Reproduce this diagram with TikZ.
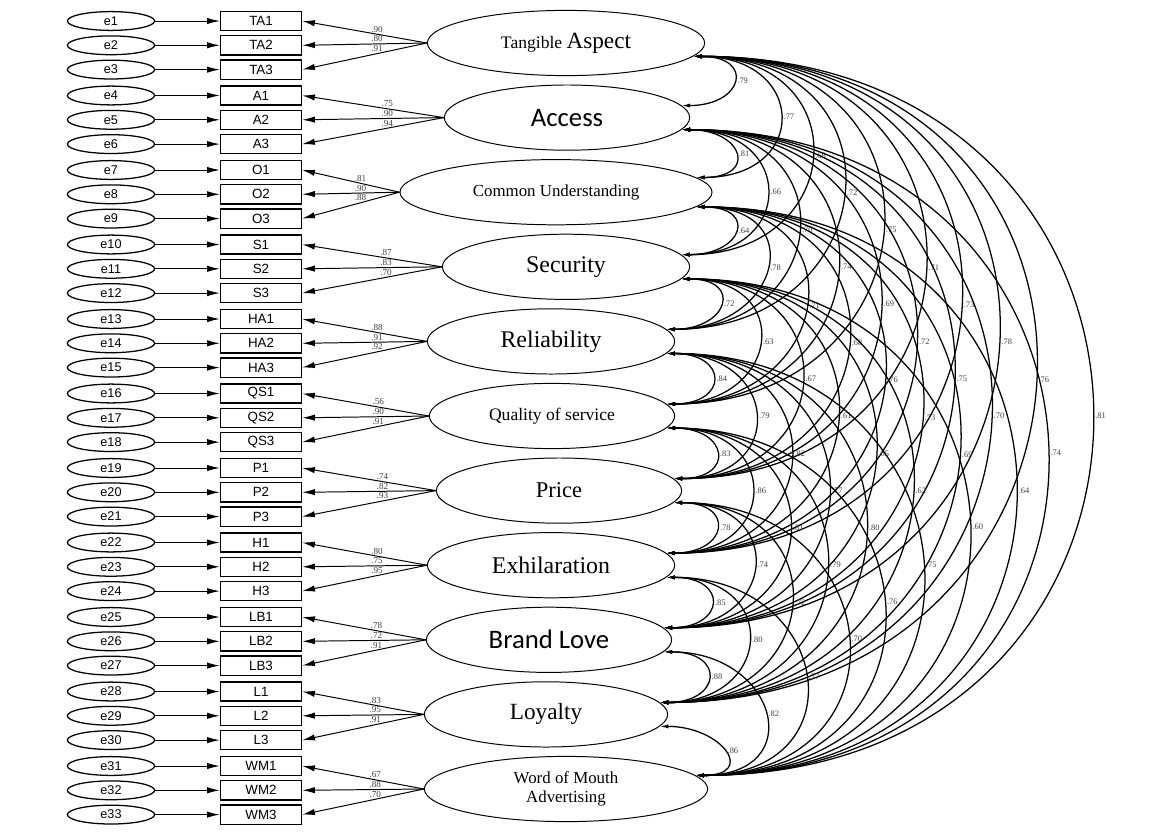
\documentclass[tikz,border=0pt]{standalone}
\usepackage{fontspec}
\setmainfont{Liberation Serif}
\setsansfont{Liberation Sans}
\newfontfamily\calibrifont{Carlito}
\usetikzlibrary{shapes.geometric, arrows.meta}

\tikzset{
  errnode/.style={draw, ellipse, inner sep=0pt, minimum width=2.18cm, minimum height=0.47cm,
    line width=0.9pt, font=\sffamily\fontsize{9}{9}\selectfont},
  itemnode/.style={draw, rectangle, inner sep=0pt, minimum width=2.03cm, minimum height=0.48cm,
    line width=0.9pt, font=\sffamily\fontsize{9.5}{9.5}\selectfont},
  latnode/.style={draw, ellipse, inner sep=0pt, minimum height=1.63cm, line width=0.7pt, align=center},
  onearrow/.style={-{Latex[length=9pt, width=4.5pt]}, line width=0.7pt},
  covarc/.style={{Latex[length=6pt, width=3pt]}-{Latex[length=6pt, width=3pt]}, line width=0.9pt},
  wtlabel/.style={font=\fontsize{6.5}{6.5}\selectfont, text=black!75, inner sep=1pt},
  covlabel/.style={font=\fontsize{6}{6}\selectfont, text=black!75, inner sep=2pt, anchor=west},
}

\begin{document}
\begin{tikzpicture}[x=0.025cm, y=-0.025cm]
  \useasboundingbox (0,0) rectangle (1168,835);

  % latent factors
  \foreach \lat/\cx/\latw/\lfont/\txt [count=\g from 0] in {
      TA/566/6.93/{\fontsize{12.5}{12.5}\selectfont}/{Tangible {\fontsize{16.5}{16.5}\selectfont Aspect}},
      A/567/6.13/{\calibrifont\fontsize{19}{19}\selectfont}/Access,
      U/556/7.8/{\fontsize{12}{12}\selectfont}/Common Understanding,
      S/566/6.18/{\fontsize{17}{17}\selectfont}/Security,
      HA/551/6.18/{\fontsize{17}{17}\selectfont}/Reliability,
      QS/552/6.13/{\fontsize{12.5}{12.5}\selectfont}/Quality of service,
      P/559/6.13/{\fontsize{16}{16}\selectfont}/Price,
      H/551/6.18/{\fontsize{17}{17}\selectfont}/Exhilaration,
      LB/549/6.13/{\calibrifont\fontsize{19}{19}\selectfont}/Brand Love,
      L/546/6.08/{\fontsize{16.5}{16.5}\selectfont}/Loyalty,
      WM/566/7.08/{\fontsize{12}{14}\selectfont}/{Word of Mouth\\Advertising}}
    \node[latnode, minimum width=\latw cm, font=\lfont] (\lat) at (\cx, {43+74.6*\g}) {\txt};

  % indicators with their error terms
  \foreach \lat/\item/\wt [count=\n] in {
      TA/TA1/.90, TA/TA2/.80, TA/TA3/.91,
      A/A1/.75, A/A2/.90, A/A3/.94,
      U/O1/.81, U/O2/.90, U/O3/.88,
      S/S1/.87, S/S2/.83, S/S3/.70,
      HA/HA1/.88, HA/HA2/.91, HA/HA3/.92,
      QS/QS1/.56, QS/QS2/.90, QS/QS3/.91,
      P/P1/.74, P/P2/.82, P/P3/.93,
      H/H1/.80, H/H2/.75, H/H3/.95,
      LB/LB1/.78, LB/LB2/.72, LB/LB3/.91,
      L/L1/.83, L/L2/.95, L/L3/.91,
      WM/WM1/.67, WM/WM2/.88, WM/WM3/.70}
  {
    \pgfmathsetmacro\yy{21+74.5*floor((\n-1)/3)+24.3*mod(\n-1,3)}
    \node[errnode] (e\n) at (111,\yy) {e\n};
    \node[itemnode] (\item) at (261,\yy) {\item};
    \draw[onearrow] (e\n) -- (\item);
    \draw[onearrow] (\lat.west) -- (\item.east) node[wtlabel, pos=0.4, above] {\wt};
  }

  % correlations between the factors
  \foreach \tgt/\r [count=\d] in {A/.79, U/.77, S/.68, HA/.72, QS/.75, P/.71, H/.73, LB/.78, L/.76, WM/.81}
    \draw[covarc] (TA.-6) .. controls +(52*\d+10,0) and +(52*\d+10,0) .. (\tgt.6) node[covlabel, pos=0.5] {\r};
  \foreach \tgt/\r [count=\d] in {U/.81, S/.66, HA/.70, QS/.74, P/.69, H/.72, LB/.75, L/.70, WM/.74}
    \draw[covarc] (A.-6) .. controls +(52*\d+10,0) and +(52*\d+10,0) .. (\tgt.6) node[covlabel, pos=0.5] {\r};
  \foreach \tgt/\r [count=\d] in {S/.64, HA/.78, QS/.71, P/.68, H/.76, LB/.73, L/.69, WM/.64}
    \draw[covarc] (U.-6) .. controls +(52*\d+10,0) and +(52*\d+10,0) .. (\tgt.6) node[covlabel, pos=0.5] {\r};
  \foreach \tgt/\r [count=\d] in {HA/.72, QS/.63, P/.67, H/.61, LB/.65, L/.62, WM/.60}
    \draw[covarc] (S.-6) .. controls +(52*\d+10,0) and +(52*\d+10,0) .. (\tgt.6) node[covlabel, pos=0.5] {\r};
  \foreach \tgt/\r [count=\d] in {QS/.84, P/.79, H/.82, LB/.77, L/.80, WM/.75}
    \draw[covarc] (HA.-6) .. controls +(52*\d+10,0) and +(52*\d+10,0) .. (\tgt.6) node[covlabel, pos=0.5] {\r};
  \foreach \tgt/\r [count=\d] in {P/.83, H/.86, LB/.81, L/.79, WM/.76}
    \draw[covarc] (QS.-6) .. controls +(52*\d+10,0) and +(52*\d+10,0) .. (\tgt.6) node[covlabel, pos=0.5] {\r};
  \foreach \tgt/\r [count=\d] in {H/.78, LB/.74, L/.72, WM/.70}
    \draw[covarc] (P.-6) .. controls +(52*\d+10,0) and +(52*\d+10,0) .. (\tgt.6) node[covlabel, pos=0.5] {\r};
  \foreach \tgt/\r [count=\d] in {LB/.85, L/.80, WM/.77}
    \draw[covarc] (H.-6) .. controls +(52*\d+10,0) and +(52*\d+10,0) .. (\tgt.6) node[covlabel, pos=0.5] {\r};
  \foreach \tgt/\r [count=\d] in {L/.88, WM/.82}
    \draw[covarc] (LB.-6) .. controls +(52*\d+10,0) and +(52*\d+10,0) .. (\tgt.6) node[covlabel, pos=0.5] {\r};
  \draw[covarc] (L.-6) .. controls +(62,0) and +(62,0) .. (WM.6) node[covlabel, pos=0.5] {.86};
\end{tikzpicture}
\end{document}
